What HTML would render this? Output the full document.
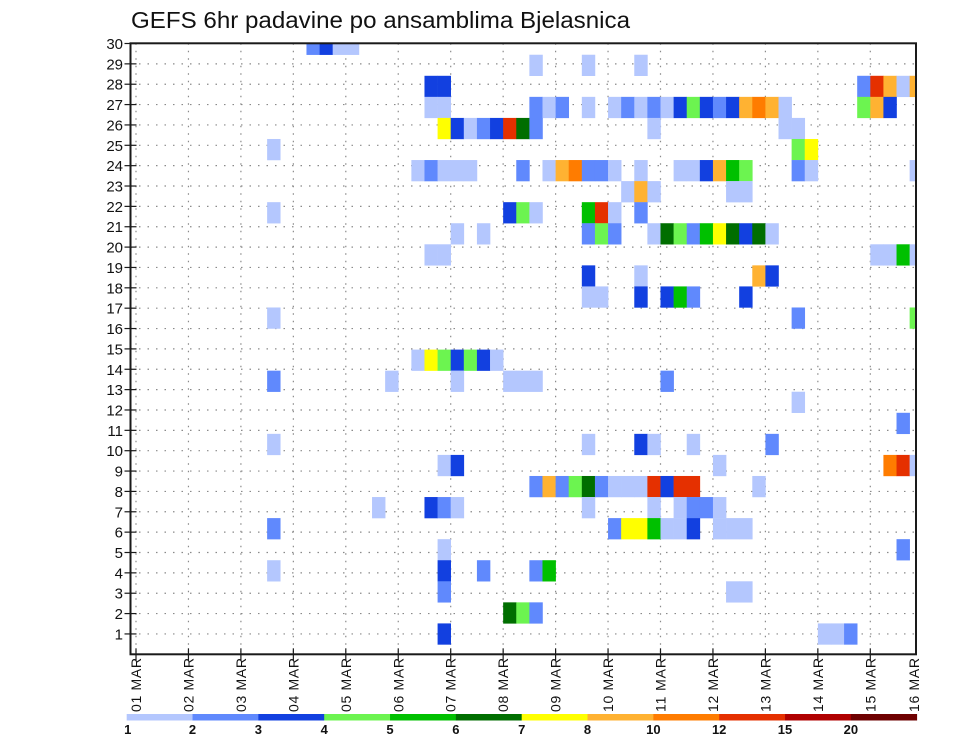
<!DOCTYPE html>
<html><head><meta charset="utf-8"><style>
html,body{margin:0;padding:0;background:#fff;}
svg{display:block;font-family:"Liberation Sans",sans-serif;}
</style></head><body>
<svg id="chart" width="960" height="742" viewBox="0 0 960 742" xmlns="http://www.w3.org/2000/svg">
<rect x="0" y="0" width="960" height="742" fill="#fff"/>
<text x="131" y="28" font-size="23" textLength="499" lengthAdjust="spacingAndGlyphs" fill="#111">GEFS 6hr padavine po ansamblima Bjelasnica</text>
<g id="grid"></g>
<g id="cells"></g>
<g id="axes"></g>
<g id="legend"></g>
</svg>
<script>
// ---- data ----
const dayLabels = ["01 MAR","02 MAR","03 MAR","04 MAR","05 MAR","06 MAR","07 MAR","08 MAR","09 MAR","10 MAR","11 MAR","12 MAR","13 MAR","14 MAR","15 MAR","16 MAR"];
const yTicks = [1,2,3,4,5,6,7,8,9,10,11,12,13,14,15,16,17,18,19,20,21,22,23,24,25,26,27,28,29,30];
const levelBounds = [1,2,3,4,5,6,7,8,10,12,15,20,30];
const levelLabels = ["1","2","3","4","5","6","7","8","10","12","15","20"];
const levelColors = ["#b4c7fe","#6089fd","#1240e0","#6cf450","#00c000","#006e00","#ffff00","#ffb232","#ff7c00","#e53000","#b00000","#6e0000"];
// class codes -> representative precip values (mm)
const L=1.5,M=2.5,D=3.5,LG=4.5,G=5.5,DG=6.5,Y=7.5,LO=9,O=11,R=13.5;
// member index, 6-hourly step from 01 MAR 00Z, precip value
const cellMember = [
29,29,29,29,
28,28,28,
27,27,27,27,27,27,27,
26,26,26,26,26,26,26,26,26,26,26,26,26,26,26,26,26,26,26,26,26,26,26,
25,25,25,25,25,25,25,25,25,25,25,
24,24,24,
23,23,23,23,23,23,23,23,23,23,23,23,23,23,23,23,23,23,23,23,23,23,
22,22,22,22,22,
21,21,21,21,21,21,21,21,
20,20,20,20,20,20,20,20,20,20,20,20,20,20,20,
19,19,19,19,19,19,
18,18,18,18,
17,17,17,17,17,17,17,
16,16,16,
14,14,14,14,14,14,14,
13,13,13,13,13,13,13,
12,
11,
10,10,10,10,10,10,
9,9,9,9,9,9,
8,8,8,8,8,8,8,8,8,8,8,8,8,8,
7,7,7,7,7,7,7,7,7,7,
6,6,6,6,6,6,6,6,6,6,6,
5,5,
4,4,4,4,4,
3,3,3,
2,2,2,
1,1,1,1];
const cellStep = [
13,14,15,16,
30,34,38,
22,23,55,56,57,58,59,
22,23,30,31,32,34,36,37,38,39,40,41,42,43,44,45,46,47,48,49,55,56,57,
23,24,25,26,27,28,29,30,39,49,50,
10,50,51,
21,22,23,24,25,29,31,32,33,34,35,36,38,41,42,43,44,45,46,50,51,59,
37,38,39,45,46,
10,28,29,30,34,35,36,38,
24,26,34,35,36,39,40,41,42,43,44,45,46,47,48,
22,23,56,57,58,59,
34,38,47,48,
34,35,38,40,41,42,46,
10,50,59,
21,22,23,24,25,26,27,
10,19,24,28,29,30,40,
50,
58,
10,34,38,39,42,48,
23,24,44,57,58,59,
30,31,32,33,34,35,36,37,38,39,40,41,42,47,
18,22,23,24,34,39,41,42,43,44,
10,36,37,38,39,40,41,42,44,45,46,
23,58,
10,23,26,30,31,
23,45,46,
28,29,30,
23,52,53,54];
const cellValue = [
M,D,L,L,
L,L,L,
D,D,M,R,LO,L,LO,
L,L,M,L,M,L,L,M,L,M,L,D,LG,D,M,D,LO,O,LO,L,LG,LO,D,
Y,D,L,M,D,R,DG,M,L,L,L,
L,LG,Y,
L,M,L,L,L,M,L,LO,O,M,M,L,L,L,L,D,LO,G,LG,M,L,L,
L,LO,L,L,L,
L,D,LG,L,G,R,L,M,
L,L,M,LG,M,L,DG,LG,M,G,Y,DG,D,DG,L,
L,L,L,L,G,L,
D,L,LO,D,
L,L,D,D,G,M,D,
L,M,LG,
L,Y,LG,D,LG,D,L,
M,L,L,L,L,L,M,
L,
M,
L,L,D,L,L,M,
L,D,L,O,R,L,
M,LO,M,LG,DG,M,L,L,L,R,D,R,R,L,
L,D,M,L,L,L,L,M,M,L,
M,M,Y,Y,G,L,L,D,L,L,L,
L,M,
L,D,M,M,G,
M,L,L,
DG,LG,M,
D,L,L,M];

// ---- geometry ----
const NS="http://www.w3.org/2000/svg";
const PL=130.5, PR=916, PT=43.3, PB=654.3;
const DAY0=136, DAYW=52.45, STEPW=DAYW/4;
const ROWH=20.36;
function xDay(d){return DAY0+d*DAYW;}
function xStep(s){return DAY0+s*STEPW;}
function yVal(v){return PB-v*ROWH;}
function yMember(m){return yVal(1+(m-1)*30/29);}
const MEMH=ROWH*30/29;
function colorFor(v){
  for(let i=0;i<levelColors.length;i++){ if(v>=levelBounds[i]&&v<levelBounds[i+1]) return levelColors[i]; }
  return v>=levelBounds[levelBounds.length-1]?levelColors[levelColors.length-1]:null;
}
function mk(tag,attrs,parent){const e=document.createElementNS(NS,tag);for(const k in attrs)e.setAttribute(k,attrs[k]);parent.appendChild(e);return e;}

const grid=document.getElementById('grid');
yTicks.forEach(t=>{
  if(t>=30) return;
  const l=mk('line',{x1:PL,x2:PR,y1:yVal(t),y2:yVal(t),stroke:'#8a8a8a','stroke-width':1.2,'stroke-dasharray':'1.5 7'},grid);
  
  
});
dayLabels.forEach((lab,i)=>{
  const x=xDay(i); if(x>PR-2) return;
  const l=mk('line',{x1:x,x2:x,y1:PT,y2:PB,stroke:'#8a8a8a','stroke-width':1.2,'stroke-dasharray':'1.5 6'},grid);
  
  
});

const cells=document.getElementById('cells');
const clip=mk('clipPath',{id:'plotclip'},mk('defs',{},document.getElementById('chart')));
mk('rect',{x:PL,y:PT,width:PR-PL,height:PB-PT},clip);
cells.setAttribute('clip-path','url(#plotclip)');
for(let i=0;i<cellMember.length;i++){
  const c=colorFor(cellValue[i]); if(!c) continue;
  const r=mk('rect',{x:xStep(cellStep[i]),y:yMember(cellMember[i])-MEMH/2,width:STEPW+0.3,height:MEMH+0.2,fill:c},cells);
  
  
}

const axes=document.getElementById('axes');
const fr=mk('rect',{x:PL,y:PT,width:PR-PL,height:PB-PT,fill:'none',stroke:'#1a1a1a','stroke-width':2},axes);


yTicks.forEach(t=>{
  const y=yVal(t);
  const tk=mk('line',{x1:PL-6,x2:PL+6,y1:y,y2:y,stroke:'#1a1a1a','stroke-width':1.2},axes);
  
  
  const tx=mk('text',{x:123,y:y+5.5,'font-size':15,'text-anchor':'end',fill:'#111'},axes);
  tx.textContent=String(t);
  
  
});
dayLabels.forEach((lab,i)=>{
  let x=xDay(i);
  if(x<PR){
    const tk=mk('line',{x1:x,x2:x,y1:PB-6,y2:PB+6,stroke:'#1a1a1a','stroke-width':1.2},axes);
    
    
  } else x=PR-2;
  const tx=mk('text',{x:0,y:0,'font-size':14,fill:'#111',transform:'translate('+(x+5)+',712) rotate(-90)',textLength:54,lengthAdjust:'spacing','xml:space':'preserve'},axes);
  tx.textContent=lab.replace(' ','  ');
  
  
});

const leg=document.getElementById('legend');
const LX0=126.7, LX1=916.7, LY=714, LH=6.5;
const segW=(LX1-LX0)/levelColors.length;
levelColors.forEach((c,i)=>{
  const r=mk('rect',{x:LX0+i*segW,y:LY,width:segW+0.4,height:LH,fill:c},leg);
  
  
});
levelLabels.forEach((lab,i)=>{
  const t=mk('text',{x:LX0+i*segW+(i===0?1:0),y:734,'font-size':13,'font-weight':'bold','text-anchor':'middle',fill:'#111'},leg);
  t.textContent=lab;
  
  
});
</script>
</body></html>
